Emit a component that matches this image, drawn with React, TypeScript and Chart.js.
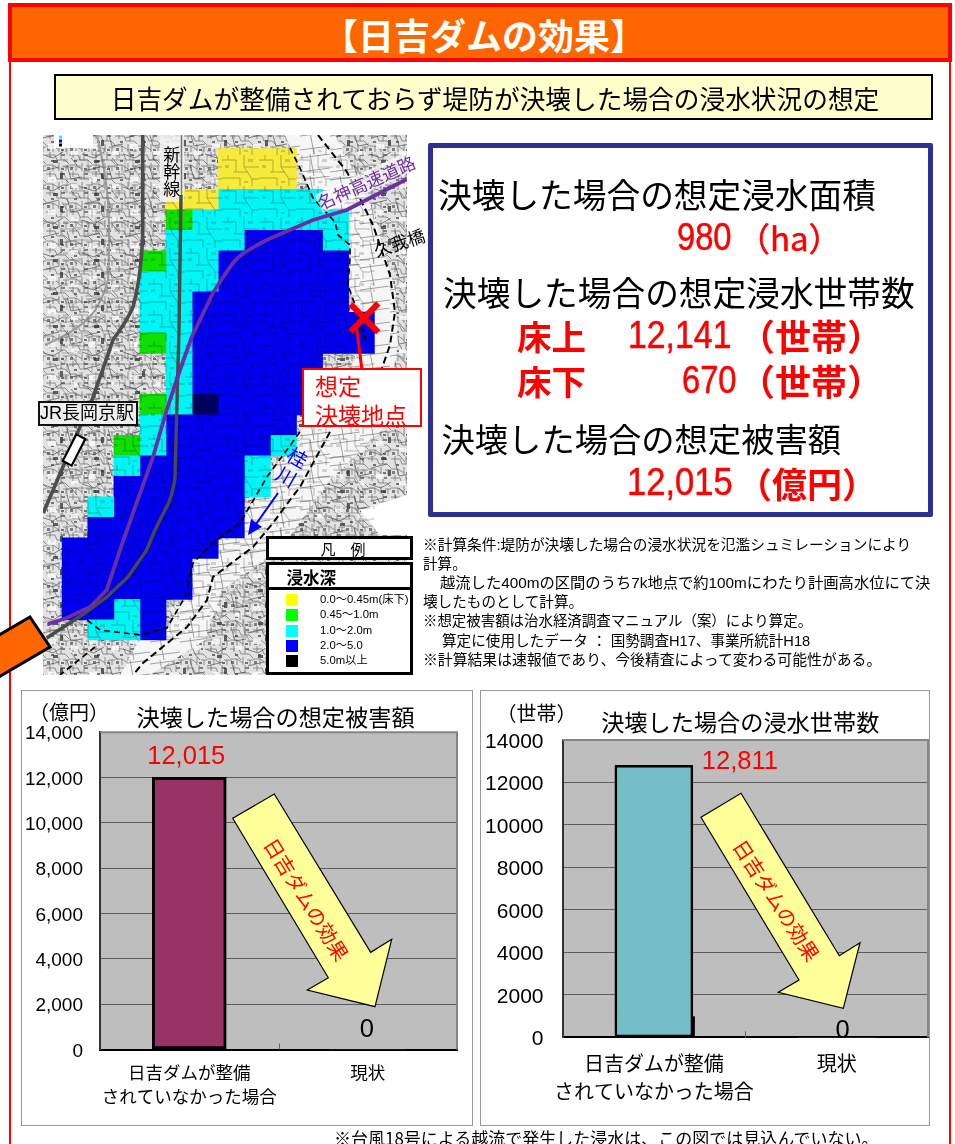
import React, { useEffect, useRef } from "react";
import { Chart, registerables } from "chart.js";

Chart.register(...registerables);

const LATIN = '"Liberation Sans","Noto Sans CJK JP",sans-serif';
const JP = '"Noto Sans CJK JP",sans-serif';

// Bar chart values
const damageCategories = [["日吉ダムが整備", "されていなかった場合"], "現状"];
const damageValues = [12015, 0];
const householdCategories = [["日吉ダムが整備", "されていなかった場合"], "現状"];
const householdValues = [12811, 0];
const axisMax = 14000;
const axisStep = 2000;

// Flood depth mesh, one string per row, one letter per column
const meshRows = [
  "......yyy...",
  "......yyy...",
  "....yycccc..",
  "....gcccccc.",
  "....cccbbbc.",
  "...gccbbbbb.",
  "...cccbbbbb.",
  "...ccbbbbbb.",
  "...ccbbbbbbb",
  "...gcbbbbbbb",
  "....cbbbbb..",
  "....cbbbbbb.",
  "...gckbbbbb.",
  "...cbbbbb...",
  "..gcbbbbc...",
  "..cbbbbc....",
  "..bbbbbc....",
  ".cbbbbb.....",
  ".bbbbbb.....",
  "bbbbbb......",
  "bbbbb.......",
  "bbbbb.......",
  "bbcb........",
  ".ccb........",
];
const depthColors: Record<string, string> = {
  y: "#f6ea3c",
  g: "#10e000",
  c: "#00f6f6",
  b: "#0000ee",
  k: "#000060",
  ".": "rgba(0,0,0,0)",
};

const legendLabels = ["0.0～0.45m(床下)", "0.45～1.0m", "1.0～2.0m", "2.0～5.0", "5.0m以上"];
const legendColors = ["#ffff00", "#00ff00", "#00ffff", "#0000ff", "#000000"];

const noteLines = [
  "※計算条件:堤防が決壊した場合の浸水状況を氾濫シュミレーションにより",
  "計算。",
  "越流した400mの区間のうち7k地点で約100mにわたり計画高水位にて決",
  "壊したものとして計算。",
  "※想定被害額は治水経済調査マニュアル（案）により算定。",
  "算定に使用したデータ ： 国勢調査H17、事業所統計H18",
  "※計算結果は速報値であり、今後精査によって変わる可能性がある。",
];
const noteIndents = [423, 423, 440, 423, 423, 442, 423];
const noteSizes = [14.7, 14.6, 15.3, 14.6, 14.45, 14.6, 14.85];

// Paints the grey plot area, its outer edges and the value captions
const plotDecor = {
  id: "plotDecor",
  afterLayout(chart: any, _a: any, o: any) {
    chart.titleBlock.left += o.titleShift;
    chart.titleBlock.right += o.titleShift;
  },
  beforeDraw(chart: any) {
    const { ctx, chartArea: a } = chart;
    ctx.save();
    ctx.fillStyle = "#bebebe";
    ctx.fillRect(a.left, a.top, a.right - a.left, a.bottom - a.top);
    ctx.restore();
  },
  afterDatasetsDraw(chart: any, _a: any, o: any) {
    const { ctx, chartArea: a, scales } = chart;
    ctx.save();
    ctx.strokeStyle = "#858585";
    ctx.lineWidth = 2;
    ctx.beginPath();
    ctx.moveTo(a.left, a.top);
    ctx.lineTo(a.right, a.top);
    ctx.lineTo(a.right, a.bottom);
    ctx.stroke();
    // divider between the two categories
    ctx.strokeStyle = "#666";
    ctx.lineWidth = 1;
    const mid = Math.round((a.left + a.right) / 2) + 0.5;
    ctx.beginPath();
    ctx.moveTo(mid, a.bottom);
    ctx.lineTo(mid, a.bottom - 6);
    ctx.stroke();
    if (o.stub) {
      const bar = chart.getDatasetMeta(0).data[0];
      ctx.fillStyle = "#000";
      ctx.fillRect(bar.x + bar.width / 2 - 1, a.bottom - o.stub, 3, o.stub);
    }
    ctx.textAlign = "center";
    ctx.textBaseline = "middle";
    chart.data.datasets[0].data.forEach((v: number, i: number) => {
      const x = scales.x.getPixelForValue(i);
      const y = scales.y.getPixelForValue(v);
      const off = o.offsets[i];
      ctx.font = `${o.size}px ${LATIN}`;
      ctx.fillStyle = v > 0 ? "#ff0000" : "#000000";
      ctx.fillText(v > 0 ? v.toLocaleString("en-US") : String(v), x + off[0], y + off[1]);
    });
    ctx.restore();
  },
};

function useBarChart(
  ref: React.RefObject<HTMLCanvasElement | null>,
  cfg: {
    title: string;
    labels: any[];
    values: number[];
    color: string;
    thick: number;
    border: number;
    tickSize: number;
    commas: boolean;
    catSize: number;
    catLine: number;
    catPad: number;
    tickPad: number;
    axisW: number;
    axisH: number;
    pad: any;
    titleGap: number;
    titleShift: number;
    offsets: number[][];
    stub: number;
  }
) {
  useEffect(() => {
    const chart = new Chart(ref.current as HTMLCanvasElement, {
      type: "bar",
      data: {
        labels: cfg.labels,
        datasets: [
          {
            data: cfg.values,
            backgroundColor: cfg.color,
            borderColor: "#000000",
            borderWidth: (c: any) => (c.raw > 0 ? cfg.border : 0),
            borderSkipped: false,
            barThickness: cfg.thick,
          },
        ],
      },
      options: {
        responsive: false,
        animation: false,
        layout: { autoPadding: false, padding: cfg.pad },
        plugins: {
          legend: { display: false },
          tooltip: { enabled: false },
          title: {
            display: true,
            fullSize: false,
            text: cfg.title,
            color: "#000",
            font: { family: JP, size: 23.2, weight: "normal", lineHeight: 1.2 },
            padding: { top: 0, bottom: cfg.titleGap },
          },
          plotDecor: { size: 25.5, offsets: cfg.offsets, stub: cfg.stub, titleShift: cfg.titleShift },
        },
        scales: {
          x: {
            grid: { drawOnChartArea: false, drawTicks: false },
            border: { color: "#000", width: 2 },
            ticks: {
              color: "#000",
              padding: cfg.catPad,
              maxRotation: 0,
              autoSkip: false,
              font: { family: JP, size: cfg.catSize, lineHeight: cfg.catLine },
            },
            afterFit: (s: any) => {
              s.height = cfg.axisH;
            },
          },
          y: {
            min: 0,
            max: axisMax,
            grid: { color: "#5c5c5c", lineWidth: 1, drawTicks: false },
            border: { color: "#333", width: 2 },
            ticks: {
              stepSize: axisStep,
              color: "#000",
              padding: cfg.tickPad,
              labelOffset: 2,
              font: { family: LATIN, size: cfg.tickSize },
              callback: (v: any) => (cfg.commas ? Number(v).toLocaleString("en-US") : String(v)),
            },
            afterFit: (s: any) => {
              s.width = cfg.axisW;
            },
          },
        },
      } as any,
      plugins: [plotDecor],
    } as any);
    return () => chart.destroy();
  }, []);
}

function useMeshChart(ref: React.RefObject<HTMLCanvasElement | null>) {
  useEffect(() => {
    const columns = meshRows[0].split("");
    const chart = new Chart(ref.current as HTMLCanvasElement, {
      type: "bar",
      data: {
        labels: meshRows.map((_, i) => String(i)),
        datasets: columns.map((_, col) => ({
          data: meshRows.map(() => 1),
          backgroundColor: meshRows.map((r) => depthColors[r[col]]),
          borderWidth: 0,
          barPercentage: 1,
          categoryPercentage: 1,
        })),
      },
      options: {
        indexAxis: "y",
        responsive: false,
        animation: false,
        layout: { autoPadding: false, padding: { left: 18.7, top: 13.3, right: 32.3, bottom: 34.7 } },
        plugins: { legend: { display: false }, tooltip: { enabled: false } },
        scales: {
          x: { display: false, stacked: true, min: 0, max: columns.length },
          y: { display: false, stacked: true },
        },
      } as any,
    } as any);
    return () => chart.destroy();
  }, []);
}

function Txt(p: {
  x: number;
  y: number;
  s: string;
  size: number;
  color?: string;
  bold?: boolean;
  font?: string;
  center?: boolean;
  squeeze?: number;
  stroke?: number;
  z?: number;
}) {
  return (
    <div
      style={{
        position: "absolute",
        left: p.x,
        top: p.y,
        transform: p.center
          ? "translate(-50%,-50%)"
          : `translateY(-50%)${p.squeeze ? ` scaleX(${p.squeeze})` : ""}`,
        transformOrigin: "left center",
        fontSize: p.size,
        lineHeight: 1,
        fontFamily: p.font || JP,
        fontWeight: p.bold ? 700 : 400,
        color: p.color || "#000",
        whiteSpace: "pre",
        WebkitTextStroke: p.stroke ? `${p.stroke}px ${p.color}` : undefined,
        zIndex: p.z || 6,
      }}
    >
      {p.s}
    </div>
  );
}

function box(left: number, top: number, width: number, height: number, extra: React.CSSProperties): React.CSSProperties {
  return { position: "absolute", left, top, width, height, boxSizing: "border-box", ...extra };
}

const jrLine = "M142.7 135 L142.7 233 C142 260 139 285 133 307 C125 325 118 332 113 340 L92 400 L81.7 423 L43.3 513";
const shinkansenTop = "M181.5 135 L181.5 195";
const shinkansenLine =
  "M181 195 L179 330 L177 400 L175 478 C173 492 170 502 165 510 L155 530 L146.7 550 L128 577 L106.7 597 L85 613 L46.7 638";
const meishinLine =
  "M406.7 179.3 L346.7 210 L313 220 L266.7 240 C250 249 240 254 233 263 C224 275 220 282 213 293 L191.7 337 L180 370 L166.7 410 L153 457 L133 513 L120 550 L106.7 590 L90 607 L66.7 618 L48 624";
const leveeRight =
  "M318 135 L347 172 L373 225 L390 275 L395 312 L390 345 L382 368 M330 432 L300 487 L290 500 L273 523 L253 547 L213 577 L207 600 L187 627 L143 663 L133 675";
const leveeLeft =
  "M290 148 L300 168 L313 198 L335 222 L338 235 L350 245 L350 258 L348 285 L355 305 L365 338 L368 345 M300 432 L267 477 L240 523 L213 543 L193 563 L185 597 L167 628 L140 635 L100 630 L87 620 M95 647 L60 675";
const riverBand =
  "M285 135 L335 135 L373 210 L395 290 L398 345 L382 430 L330 480 L280 550 L222 590 L205 640 L150 675 L120 675 L140 640 L167 628 L185 597 L193 563 L240 523 L267 477 L300 432 L355 360 L355 305 L348 285 L350 245 L335 222 L313 198 L300 168 Z";

const arrowLeft = "232.7,818.3 274.3,794 370.7,952.3 391.7,939.3 375,1006.7 307.3,990 328.3,977.7";
const arrowRight = "701,817.3 741,793.3 839.3,955.7 860,942.7 843.3,1008.3 778.3,992.3 799,980";

export default function App() {
  const damageRef = useRef<HTMLCanvasElement>(null);
  const householdRef = useRef<HTMLCanvasElement>(null);
  const meshRef = useRef<HTMLCanvasElement>(null);

  useBarChart(damageRef, {
    title: "決壊した場合の想定被害額",
    labels: damageCategories,
    values: damageValues,
    color: "#993366",
    thick: 74,
    border: 3,
    tickSize: 19,
    commas: true,
    catSize: 17.5,
    catLine: 1.37,
    catPad: 11,
    tickPad: 17,
    axisW: 76,
    axisH: 75.5,
    pad: { left: 3, right: 15, top: 13, bottom: 0 },
    titleGap: 1.4,
    titleShift: -3,
    offsets: [[-3, -20], [-1, -20]],
    stub: 0,
  });
  useBarChart(householdRef, {
    title: "決壊した場合の浸水世帯数",
    labels: householdCategories,
    values: householdValues,
    color: "#74bec6",
    thick: 78,
    border: 2.5,
    tickSize: 21,
    commas: false,
    catSize: 20,
    catLine: 1.4,
    catPad: 12,
    tickPad: 19,
    axisW: 80.5,
    axisH: 87.7,
    pad: { left: 2, right: 1, top: 17.9, bottom: 0 },
    titleGap: 4.3,
    titleShift: -5,
    offsets: [[86, -3], [6, -6]],
    stub: 21,
  });
  useMeshChart(meshRef);

  const clip = "url(#mapClip)";
  const red = "#ff0000";
  return (
    <div style={{ position: "absolute", left: 0, top: 0, width: 955, height: 1144, overflow: "hidden", background: "#fff" }}>
      {/* page frame and heading */}
      <div style={box(9, 40, 942, 1140, { border: "2.5px solid #ff0000" })} />
      <div style={box(8, 3, 944, 59, { background: "#ff6600", border: "4px solid #ff0000", zIndex: 1 })} />
      <Txt x={484} y={34} s="【日吉ダムの効果】" size={36} bold color="#fff" center z={2} />
      <div style={box(54, 74, 879, 46, { background: "#ffffcc", border: "2px solid #000" })} />
      <Txt x={495} y={97.5} s="日吉ダムが整備されておらず堤防が決壊した場合の浸水状況の想定" size={25.7} center />

      {/* base map */}
      <svg width={955} height={1144} style={{ position: "absolute", left: 0, top: 0, zIndex: 1 }}>
        <defs>
          <clipPath id="mapClip">
            <rect x={43} y={135} width={364} height={540} />
          </clipPath>
          <pattern id="urban" width={23} height={19} patternUnits="userSpaceOnUse">
            <path
              d="M0 3H9L11 8H19 M4 0V6 M15 0V8 M19 8L23 12 M0 13H7V19 M7 13L13 17 M13 11V19 M17 14H23 M20 14V19"
              stroke="#303030"
              strokeWidth={0.7}
              fill="none"
            />
            <rect x={5} y={8} width={3} height={2} fill="#444" />
            <rect x={15} y={2} width={4} height={2} fill="#555" />
            <rect x={1} y={15} width={3} height={3} fill="#555" />
            <rect x={15} y={16} width={3} height={2} fill="#444" />
          </pattern>
          <pattern id="urban2" width={41} height={33} patternUnits="userSpaceOnUse">
            <path d="M2 6L18 2 M26 0L30 14L41 12 M0 22L12 26L22 20 M30 26L36 33" stroke="#3a3a3a" strokeWidth={0.8} fill="none" />
            <rect x={7} y={12} width={8} height={5} fill="#fff" />
            <rect x={30} y={19} width={7} height={4} fill="#fff" />
            <rect x={19} y={8} width={3} height={6} fill="#333" />
            <rect x={12} y={28} width={5} height={3} fill="#333" />
          </pattern>
          <pattern id="streets" width={37} height={31} patternUnits="userSpaceOnUse">
            <path
              d="M0 5H14V17 M6 0V5 M22 0V12H37 M22 12L30 24H37 M0 23H18V31 M11 17H26 M30 24V31"
              stroke="#000"
              strokeWidth={0.9}
              fill="none"
            />
            <rect x={3} y={10} width={4} height={3} fill="#000" opacity={0.5} />
            <rect x={26} y={4} width={5} height={3} fill="#000" opacity={0.5} />
            <rect x={22} y={26} width={4} height={2} fill="#000" opacity={0.5} />
          </pattern>
          <pattern id="fields" width={30} height={22} patternUnits="userSpaceOnUse">
            <path d="M0 4L30 0 M0 18L30 14 M10 0L14 22" stroke="#8a8a8a" strokeWidth={0.8} fill="none" />
          </pattern>
          <filter id="soft">
            <feGaussianBlur stdDeviation={0.5} />
          </filter>
        </defs>
        <g clipPath={clip}>
          <rect x={43} y={135} width={364} height={540} fill="#e2e2e2" />
          <rect x={43} y={135} width={364} height={540} fill="url(#urban)" opacity={0.7} filter="url(#soft)" />
          <rect x={43} y={135} width={364} height={540} fill="url(#urban2)" opacity={0.75} filter="url(#soft)" />
          <path d={riverBand} fill="#f6f6f6" />
          <path d={riverBand} fill="url(#fields)" />
          <path d="M97 135 C105 170 112 200 108 280 C100 310 90 325 45 345" stroke="#9a9a9a" strokeWidth={2} fill="none" />
          <path d="M360 510 L407 495 L407 535 L380 535 Z" fill="#fff" />
        </g>
      </svg>

      {/* flood mesh */}
      <div style={{ position: "absolute", left: 43, top: 135, width: 364, height: 540, zIndex: 2 }}>
        <canvas ref={meshRef} width={364} height={540} style={{ display: "block" }} />
      </div>

      {/* map linework and annotations */}
      <svg width={955} height={1144} style={{ position: "absolute", left: 0, top: 0, zIndex: 3 }}>
        <g clipPath={clip}>
          <rect x={61.7} y={148.3} width={313} height={492} fill="url(#streets)" opacity={0.3} filter="url(#soft)" />
          <rect x={160} y={135} width={24} height={67} fill="#f2f2f2" opacity={0.85} />
          <rect x={54} y={135} width={39} height={13} fill="#fff" />
          <rect x={59} y={135.5} width={3} height={3} fill="#00ffff" />
          <rect x={59} y={139.5} width={3} height={3} fill="#0000ff" />
          <rect x={59} y={143.5} width={3} height={3} fill="#000" />
          <path d={leveeLeft} stroke="#000" strokeWidth={1.7} strokeDasharray="6 4" fill="none" />
          <path d={leveeRight} stroke="#000" strokeWidth={2} strokeDasharray="7 4" fill="none" />
          <path d={jrLine} stroke="#4d4d4d" strokeWidth={3.6} fill="none" />
          <path d={shinkansenTop} stroke="#777" strokeWidth={1.5} fill="none" />
          <path d={shinkansenLine} stroke="#4a4a4a" strokeWidth={3.4} fill="none" />
          <path d={meishinLine} stroke="#6a2fa2" strokeWidth={3.8} fill="none" />
        </g>
        <polygon points="30,617 50,647 -10,682 -30,652" fill="#ff6600" stroke="#000" strokeWidth={3} />
        <rect x={-5} y={-15} width={10} height={30} transform="translate(74 450) rotate(27)" fill="#fff" stroke="#000" strokeWidth={2.2} />
        <rect x={-52} y={-10} width={104} height={20} transform="translate(366 182) rotate(-25)" fill="#fff" opacity={0.65} />
        <text x={366} y={182} transform="rotate(-24 366 182)" textAnchor="middle" dominantBaseline="central" fontFamily={JP} fontSize={17.5} fill="#7030a0">
          名神高速道路
        </text>
        <text x={399} y={242} transform="rotate(-18 399 242)" textAnchor="middle" dominantBaseline="central" fontFamily={JP} fontSize={17.5} fill="#000">
          久我橋
        </text>
        <text x={298} y={457} transform="rotate(30 298 457)" textAnchor="middle" dominantBaseline="central" fontFamily={JP} fontSize={20} fill="#0000ff">
          桂
        </text>
        <text x={287} y={476} transform="rotate(30 287 476)" textAnchor="middle" dominantBaseline="central" fontFamily={JP} fontSize={20} fill="#0000ff">
          川
        </text>
        <path d="M278 493 L254 527" stroke="#0000ff" strokeWidth={2} fill="none" />
        <polygon points="248,535 251,519 262,527" fill="#0000ff" />
        <path d="M356.7 328 L361.7 368" stroke="#ff0000" strokeWidth={3} />
        <path d="M350.7 304.3 L378.3 332.3 M378.3 303.3 L350.7 331.7" stroke="#ff0000" strokeWidth={6} />
      </svg>

      {["新", "幹", "線"].map((c, i) => (
        <Txt key={c} x={171.7} y={153 + i * 17} s={c} size={17} center />
      ))}
      <div style={box(38, 401, 100, 25, { background: "#f0f0f0", border: "2px solid #111", zIndex: 5 })} />
      <Txt x={40} y={413} s="JR長岡京駅" size={18} font={LATIN} />
      <div style={box(302, 368, 120, 59, { background: "#fff", border: "2.5px solid #ff0000", zIndex: 5 })} />
      <Txt x={315} y={385} s="想定" size={23} color={red} />
      <Txt x={315} y={414} s="決壊地点" size={23} color={red} />

      {/* legend */}
      <div style={box(266, 536, 147, 24, { background: "#fff", border: "3px solid #000", zIndex: 5 })} />
      <Txt x={343} y={548} s="凡　例" size={15} center />
      <div style={box(266, 562, 147, 113, { background: "#fff", border: "3px solid #000", zIndex: 5 })} />
      <div style={box(266, 587, 147, 3, { background: "#000", zIndex: 5 })} />
      <Txt x={286.5} y={576.5} s="浸水深" size={16.5} bold />
      {legendLabels.map((label, i) => (
        <React.Fragment key={label}>
          <div style={box(286, 594 + i * 15.3, 12, 12, { background: legendColors[i], zIndex: 6 })} />
          <Txt x={320} y={600 + i * 15.3} s={label} size={11.3} font={LATIN} />
        </React.Fragment>
      ))}

      {/* summary panel */}
      <div style={box(428, 143, 505, 374, { border: "5px solid #2e3192", borderRadius: 2 })} />
      <Txt x={438} y={194} s="決壊した場合の想定浸水面積" size={33.7} />
      <Txt x={677} y={236.5} s="980" size={38} color={red} font={LATIN} squeeze={0.86} stroke={0.5} />
      <Txt x={737} y={236.5} s="（ha）" size={33} color={red} stroke={0.5} />
      <Txt x={443} y={291.5} s="決壊した場合の想定浸水世帯数" size={33.7} />
      <Txt x={517} y={335} s="床上" size={34.5} color={red} bold />
      <Txt x={628} y={335} s="12,141" size={38} color={red} font={LATIN} squeeze={0.89} stroke={0.5} />
      <Txt x={739} y={335} s="（世帯）" size={36} color={red} bold />
      <Txt x={517} y={380} s="床下" size={34.5} color={red} bold />
      <Txt x={682} y={380} s="670" size={38} color={red} font={LATIN} squeeze={0.86} stroke={0.5} />
      <Txt x={739} y={380} s="（世帯）" size={36} color={red} bold />
      <Txt x={441.5} y={438} s="決壊した場合の想定被害額" size={33.3} />
      <Txt x={627} y={481.5} s="12,015" size={38} color={red} font={LATIN} squeeze={0.91} stroke={0.5} />
      <Txt x={737} y={481.5} s="（億円）" size={35} color={red} bold />

      {/* calculation notes */}
      {noteLines.map((text, i) => (
        <Txt key={i} x={noteIndents[i]} y={545 + i * 19.1} s={text} size={noteSizes[i]} font={LATIN} />
      ))}

      {/* bar charts */}
      <div style={box(21, 690, 452, 436, { border: "1px solid #999" })} />
      <div style={box(480, 690, 450, 436, { border: "1px solid #999" })} />
      <Txt x={69} y={711.5} s="（億円）" size={20} center />
      <Txt x={536.5} y={712.5} s="（世帯）" size={20} center />
      <canvas ref={damageRef} width={451} height={435} style={{ position: "absolute", left: 21, top: 690, zIndex: 3 }} />
      <canvas ref={householdRef} width={449} height={435} style={{ position: "absolute", left: 480, top: 690, zIndex: 3 }} />
      <svg width={955} height={1144} style={{ position: "absolute", left: 0, top: 0, zIndex: 4, pointerEvents: "none" }}>
        <polygon points={arrowLeft} fill="#ffff99" stroke="#000" strokeWidth={1.2} />
        <polygon points={arrowRight} fill="#ffff99" stroke="#000" strokeWidth={1.2} />
        <text x={307} y={899} transform="rotate(58 307 899)" textAnchor="middle" dominantBaseline="central" fontFamily={JP} fontSize={20} fill="#ff0000">
          日吉ダムの効果
        </text>
        <text x={777} y={900} transform="rotate(57 777 900)" textAnchor="middle" dominantBaseline="central" fontFamily={JP} fontSize={20} fill="#ff0000">
          日吉ダムの効果
        </text>
      </svg>
      <Txt x={334} y={1137} s="※台風18号による越流で発生した浸水は、この図では見込んでいない。" size={17} />
    </div>
  );
}
